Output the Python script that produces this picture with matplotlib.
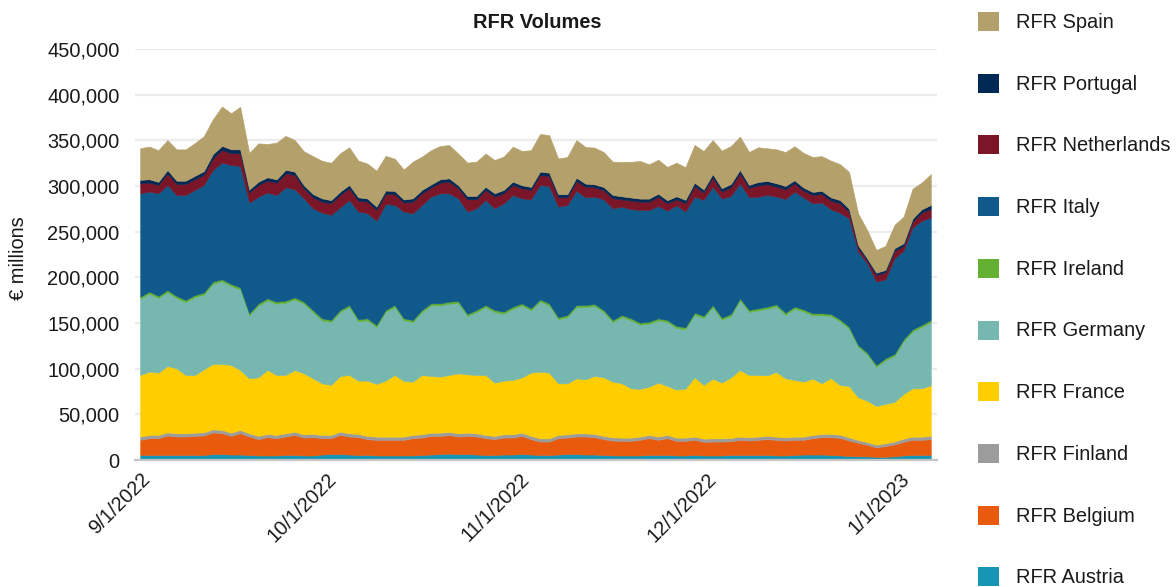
import matplotlib
matplotlib.use('Agg')
import matplotlib.pyplot as plt
from matplotlib.patches import Rectangle
from matplotlib.ticker import FuncFormatter, MultipleLocator
import numpy as np
import pandas as pd

plt.rcParams['font.family'] = ['Liberation Sans', 'DejaVu Sans']

# ---------------- data (thousands of € millions) ----------------
UNIT = 1000
dates = pd.date_range('2022-09-01', '2023-01-06', periods=88)

austria = [5.5, 5.5, 5.5, 5.5, 5.5, 5.5, 5.5, 5.5, 6.5, 6.5,
           6, 6, 5.5, 5, 5, 5, 5.5, 5.5, 5, 5,
           6, 6.5, 6.5, 6, 5.5, 5.5, 5, 5, 5, 5,
           5, 5.5, 6, 6.5, 7, 6.5, 6.5, 6, 5.5, 5.5,
           6, 6, 6.5, 6, 5.5, 5.5, 6, 6.5, 6.5, 6,
           6, 5.5, 5, 5, 5, 5, 5.5, 5.5, 5.5, 5,
           5, 5.5, 5, 5, 5, 5.5, 5.5, 5.5, 5.5, 5.5,
           5, 5, 5.5, 6, 6, 6, 5.5, 5, 4.5, 4,
           4, 3.5, 3.5, 4, 5, 5.5, 5.5, 5.5]
belgium = [16.6, 18.4, 18.4, 21.3, 20.2, 20.2, 20.9, 21.3, 23.6, 22.9,
           20.4, 23.4, 20.2, 17.8, 20.0, 18.9, 20.2, 22.0, 19.6, 20.0,
           17.9, 17.4, 21.0, 19.7, 19.5, 17.3, 17.1, 17.1, 17.1, 17.1,
           18.9, 19.1, 20.4, 19.9, 20.2, 19.2, 19.9, 19.7, 18.4, 17.3,
           18.6, 18.6, 19.9, 16.8, 14.7, 14.7, 17.9, 18.1, 19.2, 19.7,
           19.0, 17.3, 16.3, 16.0, 16.0, 17.1, 18.4, 16.6, 18.4, 16.0,
           16.0, 16.6, 14.9, 15.2, 15.2, 15.1, 16.6, 15.8, 16.6, 17.3,
           17.1, 16.3, 16.6, 16.1, 17.9, 19.0, 19.5, 19.2, 16.8, 14.9,
           12.7, 10.3, 11.8, 13.1, 14.9, 16.6, 16.6, 17.3]
finland = [3.5, 3.5, 3.5, 3.5, 3.5, 3.5, 3.5, 3.5, 3.5, 3.5,
           3.5, 3.5, 3.5, 3.5, 3.5, 3.5, 3.5, 3.5, 3.5, 3.5,
           3.5, 3.5, 3.5, 3.5, 3.5, 3.5, 3.5, 3.5, 3.5, 3.5,
           3.5, 3.5, 3.5, 3.5, 3.5, 3.5, 3.5, 3.5, 3.5, 3.5,
           3.5, 3.5, 3.5, 3.5, 3.5, 3.5, 3.5, 3.5, 3.5, 3.5,
           3.5, 3.5, 3.5, 3.5, 3.5, 3.5, 3.5, 3.5, 3.5, 3.5,
           3.5, 3.5, 3.5, 3.5, 3.5, 3.5, 3.5, 3.5, 3.5, 3.5,
           3.5, 3.5, 3.5, 3.5, 3.5, 3.5, 3.5, 3.5, 3.5, 3.0,
           3.0, 3.0, 3.0, 3.0, 3.5, 3.5, 3.5, 3.5]
france = [67.5, 69.4, 68.3, 72.6, 71.2, 63.9, 63.1, 69.0, 71.5, 72.3,
          74.1, 65.7, 60.2, 64.2, 70.1, 65.7, 63.9, 67.5, 66.8, 61.0,
          56.6, 54.8, 61.0, 63.9, 58.4, 60.6, 57.7, 61.3, 67.5, 61.0,
          58.4, 65.0, 62.1, 61.3, 62.4, 65.7, 63.9, 63.9, 65.7, 58.4,
          58.8, 59.5, 60.6, 69.4, 73.0, 71.9, 56.6, 55.8, 60.2, 59.1,
          63.5, 64.2, 61.0, 59.5, 54.0, 52.2, 52.9, 59.1, 53.7, 52.6,
          53.7, 65.0, 58.8, 65.3, 61.0, 66.4, 73.0, 68.3, 67.5, 66.4,
          70.8, 64.6, 62.1, 60.2, 61.7, 55.5, 61.3, 54.4, 56.2, 46.7,
          45.3, 42.3, 43.1, 43.4, 48.9, 52.9, 52.9, 55.5]
germany = [83.6, 85.4, 81.8, 81.0, 77.0, 79.9, 85.4, 81.8, 88.0, 90.5,
           86.5, 88.3, 69.0, 78.8, 76.3, 78.1, 79.2, 77.4, 76.3, 72.6,
           69.0, 69.0, 70.1, 74.5, 65.0, 66.1, 62.4, 75.2, 74.5, 66.4,
           65.3, 69.0, 77.4, 78.1, 78.1, 77.0, 63.9, 69.0, 74.5, 77.4,
           73.4, 78.1, 78.8, 68.2, 77.0, 73.7, 70.1, 72.6, 78.1, 79.2,
           76.6, 71.5, 65.3, 72.6, 74.5, 70.4, 69.0, 68.2, 70.1, 67.5,
           65.0, 68.6, 73.4, 78.5, 69.0, 67.2, 76.3, 69.0, 70.8, 73.0,
           71.9, 69.7, 78.1, 77.0, 69.3, 74.5, 67.9, 69.7, 62.8, 55.3,
           50.6, 42.9, 48.0, 50.6, 57.7, 62.4, 67.2, 69.3]
ireland = [2.2, 2.2, 2.2, 2.2, 2.2, 2.2, 2.2, 2.2, 2.2, 2.2,
           2.2, 2.2, 2.2, 2.2, 2.2, 2.2, 2.2, 2.2, 2.2, 2.2,
           2.2, 2.2, 2.2, 2.2, 2.2, 2.2, 2.2, 2.2, 2.2, 2.2,
           2.2, 2.2, 2.2, 2.2, 2.2, 2.2, 2.2, 2.2, 2.2, 2.2,
           2.2, 2.2, 2.2, 2.2, 2.2, 2.2, 2.2, 2.2, 2.2, 2.2,
           2.2, 2.2, 2.2, 2.2, 2.2, 2.2, 2.2, 2.2, 2.2, 2.2,
           2.2, 2.2, 2.2, 2.2, 2.2, 2.2, 2.2, 2.2, 2.2, 2.2,
           2.2, 2.2, 2.2, 2.2, 2.2, 2.2, 2.2, 2.2, 2.2, 2.0,
           2.0, 2.0, 2.0, 2.0, 2.2, 2.2, 2.2, 2.2]
italy = [113.2, 109.5, 112.4, 115.0, 110.6, 115.0, 115.0, 117.9, 122.3, 127.8,
         130.3, 132.9, 121.2, 116.8, 115.7, 116.8, 124.1, 118.3, 113.2, 111.3,
         115.7, 115.0, 112.4, 115.0, 117.9, 115.0, 114.2, 116.1, 109.5, 116.8,
         116.8, 115.0, 116.8, 120.5, 118.6, 112.4, 112.1, 111.3, 115.0, 111.3,
         118.6, 122.3, 115.0, 119.4, 125.2, 128.5, 121.2, 120.5, 125.2, 117.9,
         117.5, 121.2, 122.3, 118.6, 119.4, 123.4, 122.3, 123.0, 119.7, 132.0,
         126.7, 127.0, 127.0, 129.6, 130.3, 129.2, 125.9, 123.4, 122.3, 122.3,
         117.9, 124.5, 125.9, 122.6, 120.5, 121.2, 114.6, 116.8, 118.6, 102.2,
         97.8, 91.3, 86.5, 104.8, 97.1, 111.7, 113.9, 112.4]
netherlands = [11.0, 9.9, 9.1, 12.8, 12.0, 12.0, 11.7, 11.0, 12.8, 13.9,
               12.8, 13.9, 11.0, 12.8, 13.1, 13.5, 15.3, 15.7, 11.0, 12.0,
               12.0, 12.8, 13.5, 12.8, 12.0, 12.8, 11.7, 11.0, 12.0, 9.9,
               12.8, 12.8, 9.9, 11.7, 12.8, 11.0, 13.5, 9.9, 11.0, 12.8,
               11.0, 11.0, 11.0, 10.2, 11.0, 11.0, 10.2, 8.4, 10.6, 11.7,
               10.2, 10.2, 11.0, 8.0, 9.5, 9.1, 9.1, 10.2, 8.0, 6.6,
               9.1, 11.7, 8.0, 10.2, 7.7, 9.5, 11.0, 10.2, 12.4, 11.7,
               11.0, 10.6, 9.1, 7.3, 9.1, 9.5, 9.5, 10.2, 7.3, 4.7,
               2.9, 7.3, 7.7, 8.0, 5.1, 6.2, 9.1, 9.1]
portugal = [3.6, 3.6, 3.3, 3.6, 3.6, 3.6, 3.8, 4.0, 4.4, 4.4,
            4.4, 4.2, 3.3, 3.6, 3.6, 3.6, 3.8, 3.6, 3.3, 3.6,
            3.6, 3.3, 3.6, 3.6, 3.6, 3.3, 3.6, 3.6, 3.3, 3.3,
            3.6, 3.6, 3.3, 3.6, 3.6, 3.3, 3.6, 3.6, 3.3, 3.6,
            3.6, 3.6, 3.3, 3.3, 3.6, 3.6, 3.3, 3.3, 3.6, 3.3,
            3.3, 3.3, 3.6, 3.3, 3.3, 3.3, 3.3, 3.3, 3.3, 3.3,
            3.6, 3.6, 3.3, 3.6, 3.6, 3.6, 3.6, 3.3, 3.6, 3.6,
            3.6, 3.6, 3.3, 3.3, 3.3, 3.3, 3.6, 3.6, 3.3, 2.5,
            2.5, 2.5, 2.5, 2.9, 2.9, 3.3, 3.6, 4.4]
spain = [34.7, 35.8, 34.7, 32.9, 34.3, 34.3, 35.8, 38.3, 38.3, 43.1,
         39.4, 46.7, 40.2, 42.0, 36.5, 40.2, 37.2, 34.7, 37.2, 41.6,
         41.2, 40.9, 42.0, 41.2, 40.2, 38.3, 39.4, 38.0, 35.4, 32.9,
         40.2, 36.5, 37.6, 36.5, 36.5, 34.7, 36.5, 37.6, 36.5, 36.5,
         36.5, 38.3, 37.6, 40.2, 41.2, 41.2, 39.1, 40.9, 41.2, 40.2,
         40.2, 38.3, 36.5, 37.6, 39.1, 41.2, 37.6, 37.2, 36.5, 36.9,
         35.8, 41.2, 42.3, 37.2, 41.2, 41.6, 36.5, 36.1, 38.0, 35.8,
         37.2, 37.2, 37.2, 38.0, 38.3, 38.0, 40.2, 39.4, 40.2, 34.7,
         31.0, 24.8, 26.3, 25.6, 29.2, 32.9, 29.2, 33.9]

names = ['RFR Austria', 'RFR Belgium', 'RFR Finland', 'RFR France', 'RFR Germany',
         'RFR Ireland', 'RFR Italy', 'RFR Netherlands', 'RFR Portugal', 'RFR Spain']
series = [austria, belgium, finland, france, germany, ireland, italy,
          netherlands, portugal, spain]
colors = ['#1795B5', '#E95A0C', '#9C9C9C', '#FFCD00', '#76B8B0',
          '#64B032', '#0F5A8B', '#7A1628', '#002855', '#B4A06A']
tick_dates = pd.to_datetime(['2022-09-01', '2022-10-01', '2022-11-01',
                             '2022-12-01', '2023-01-01'])
tick_labels = ['9/1/2022', '10/1/2022', '11/1/2022', '12/1/2022', '1/1/2023']

# ---------------- figure ----------------
W, H = 1176, 587
fig = plt.figure(figsize=(W / 100, H / 100), dpi=100)
ax = fig.add_axes([135 / W, 127 / H, 802 / W, 411 / H])

ys = [np.array(s) * UNIT for s in series]
polys = ax.stackplot(dates, *ys, colors=colors, linewidth=0.4)
for p, c in zip(polys, colors):
    p.set_edgecolor(c)

ax.set_ylim(0, 450000)
ax.set_xlim(dates[0] - pd.Timedelta(hours=20), dates[-1] + pd.Timedelta(hours=24))
ax.yaxis.set_major_locator(MultipleLocator(50000))
ax.yaxis.set_major_formatter(FuncFormatter(lambda v, p: f'{int(v):,}'))
ax.yaxis.grid(True, color='#ececec', linewidth=1.6)
ax.set_axisbelow(True)
for s in ['top', 'right', 'left']:
    ax.spines[s].set_visible(False)
ax.spines['bottom'].set_color('#c4c4c4')
ax.spines['bottom'].set_linewidth(1.6)
ax.spines['bottom'].set_zorder(5)

ax.set_xticks(tick_dates)
ax.set_xticklabels(tick_labels, rotation=45, ha='right', va='top',
                   rotation_mode='anchor')
ax.tick_params(axis='x', length=0, pad=7, labelsize=14.4, labelcolor='#1a1a1a')
ax.tick_params(axis='y', length=0, pad=11, labelsize=14.4, labelcolor='#1a1a1a')

fig.text(537.5 / W, 1 - 22 / H, 'RFR Volumes', ha='center', va='center',
         fontsize=14.4, fontweight='bold', color='#1a1a1a')
fig.text(18 / W, 1 - 258 / H, '€ millions', ha='center', va='center',
         rotation=90, fontsize=14.4, color='#1a1a1a')

# legend (top to bottom = reverse of stacking order)
for k, (name, col) in enumerate(zip(names[::-1], colors[::-1])):
    yc = 21.5 + 61.7 * k
    fig.patches.append(Rectangle((978 / W, 1 - (yc + 9.5) / H), 21 / W, 19 / H,
                                 transform=fig.transFigure, facecolor=col,
                                 edgecolor='none'))
    fig.text(1016 / W, 1 - (yc + 1) / H, name, ha='left', va='center',
             fontsize=14.4, color='#1a1a1a')

fig.savefig('out.png', dpi=100)
